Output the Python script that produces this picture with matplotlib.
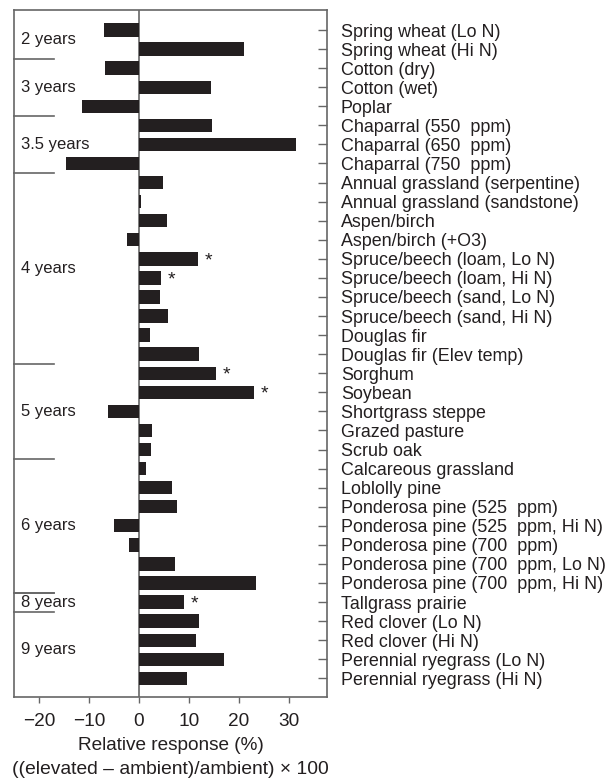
import matplotlib
matplotlib.use("Agg")
import matplotlib.pyplot as plt

plt.rcParams['font.family'] = ['Liberation Sans', 'DejaVu Sans']

# systems, top to bottom
systems = [
    "Spring wheat (Lo N)", "Spring wheat (Hi N)",
    "Cotton (dry)", "Cotton (wet)", "Poplar",
    "Chaparral (550  ppm)", "Chaparral (650  ppm)", "Chaparral (750  ppm)",
    "Annual grassland (serpentine)", "Annual grassland (sandstone)",
    "Aspen/birch", "Aspen/birch (+O3)",
    "Spruce/beech (loam, Lo N)", "Spruce/beech (loam, Hi N)",
    "Spruce/beech (sand, Lo N)", "Spruce/beech (sand, Hi N)",
    "Douglas fir", "Douglas fir (Elev temp)",
    "Sorghum", "Soybean", "Shortgrass steppe", "Grazed pasture", "Scrub oak",
    "Calcareous grassland", "Loblolly pine",
    "Ponderosa pine (525  ppm)", "Ponderosa pine (525  ppm, Hi N)",
    "Ponderosa pine (700  ppm)", "Ponderosa pine (700  ppm, Lo N)",
    "Ponderosa pine (700  ppm, Hi N)",
    "Tallgrass prairie", "Red clover (Lo N)", "Red clover (Hi N)",
    "Perennial ryegrass (Lo N)", "Perennial ryegrass (Hi N)",
]
response = [
    -7.0, 21.1, -6.7, 14.5, -11.4, 14.7, 31.4, -14.6, 4.9, 0.4,
    5.7, -2.4, 11.9, 4.5, 4.3, 5.8, 2.3, 12.1, 15.5, 23.1,
    -6.2, 2.7, 2.4, 1.4, 6.6, 7.6, -5.0, -2.0, 7.2, 23.4,
    9.1, 12.1, 11.5, 17.1, 9.7,
]
significant = [12, 13, 18, 19, 30]

# exposure duration groups: label, number of systems
groups = ["2 years", "3 years", "3.5 years", "4 years", "5 years",
          "6 years", "8 years", "9 years"]
group_sizes = [2, 3, 3, 10, 5, 7, 1, 4]

bar_color = "#231f20"
spine_color = "#666666"

fig = plt.figure(figsize=(6.13, 7.82), dpi=100)
ax = fig.add_axes([0.0228, 0.1087, 0.5106, 0.8785])

y = list(range(len(systems)))
ax.barh(y, response, height=0.7, color=bar_color, zorder=3)
ax.axvline(0, color=spine_color, lw=1.2, zorder=2)

for i in significant:
    ax.text(response[i] + 1.3, y[i] + 0.1, "*", fontsize=14,
            ha="left", va="center", color=bar_color)

ax.set_xlim(-25, 37.6)
ax.set_ylim(len(systems) - 0.02, -1.05)

# group separators and labels
start = 0
for k, (name, n) in enumerate(zip(groups, group_sizes)):
    mid = start + (n - 1) / 2
    ax.text(-23.5, mid, name, fontsize=12, ha="left", va="center",
            color="#231f20")
    if k < len(groups) - 1:
        ax.plot([-25, -17], [start + n - 0.5] * 2, color=spine_color,
                lw=1.2, clip_on=False)
    start += n
# line above the single 8-year system
ax.plot([-25, -17], [29.5, 29.5], color=spine_color, lw=1.2)

ax.yaxis.tick_right()
ax.set_yticks(y)
ax.set_yticklabels(systems, fontsize=12.9, color="#231f20")
ax.tick_params(axis="y", direction="in", length=6.5, pad=10,
               color=spine_color, width=1.0)

ax.set_xticks([-20, -10, 0, 10, 20, 30])
ax.set_xticklabels(["\u221220", "\u221210", "0", "10", "20", "30"])
ax.tick_params(axis="x", direction="out", length=4.5, width=1.0,
               color=spine_color, labelsize=13.7, labelcolor="#231f20", pad=7)

for s in ax.spines.values():
    s.set_color(spine_color)
    s.set_linewidth(1.2)

ax.text(0.5, -0.0699, "Relative response (%)", transform=ax.transAxes,
        ha="center", va="center", fontsize=13.7, color="#231f20")
ax.text(0.5, -0.106, "((elevated \u2013 ambient)/ambient) \u00d7 100",
        transform=ax.transAxes, ha="center", va="center", fontsize=13.9,
        color="#231f20")

fig.savefig("out.png", dpi=100)
